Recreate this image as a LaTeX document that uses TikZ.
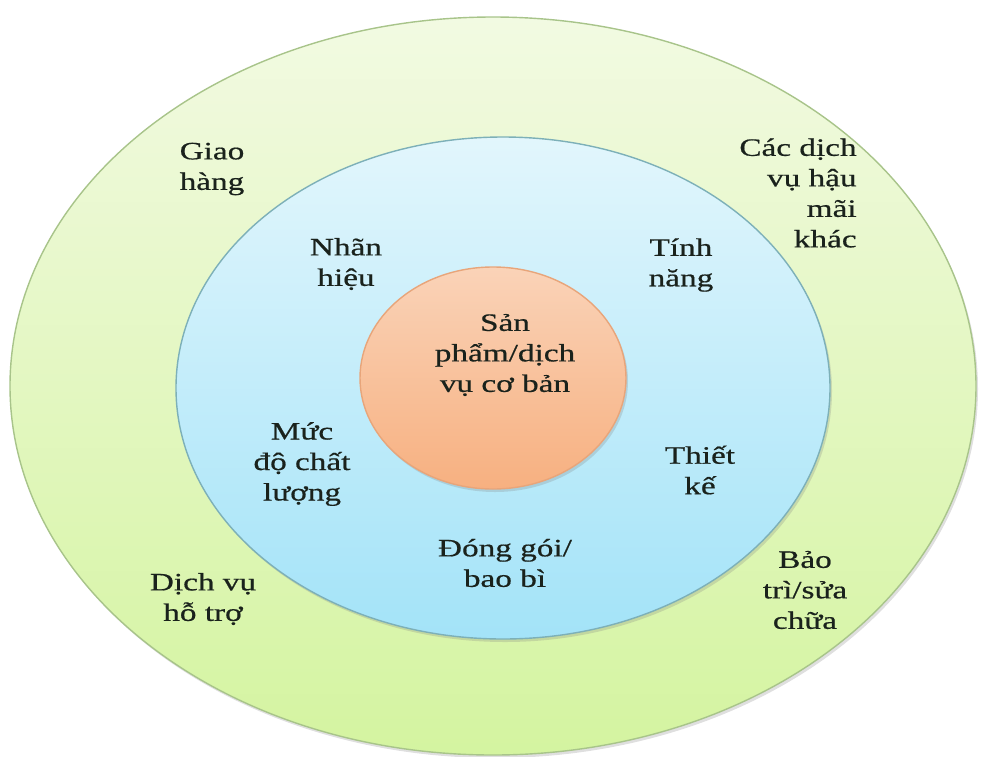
\documentclass[tikz,border=0pt]{standalone}
\usepackage{fontspec}
\setmainfont{Liberation Serif}[FakeStretch=1.33,FakeBold=0.6]
\usetikzlibrary{shadows}
\definecolor{outerTop}{HTML}{F2FAE2}
\definecolor{outerBot}{HTML}{D4F4A0}
\definecolor{outerLine}{HTML}{A8C48A}
\definecolor{midTop}{HTML}{E2F6FC}
\definecolor{midBot}{HTML}{A3E3F8}
\definecolor{midLine}{HTML}{7DB0B8}
\definecolor{inTop}{HTML}{FAD3B8}
\definecolor{inBot}{HTML}{F7B080}
\definecolor{inLine}{HTML}{E8A57A}
\definecolor{txt}{HTML}{1A221C}
\begin{document}
\begin{tikzpicture}[x=1pt,y=-1pt,
  ring/.style={line width=1.4pt},
  lbl/.style={align=center,text=txt,inner sep=0pt,font=\fontsize{25}{30.5}\selectfont}]
\useasboundingbox (0,0) rectangle (985,756);
\path[ring,draw=outerLine,top color=outerTop,bottom color=outerBot,
  drop shadow={shadow xshift=2pt,shadow yshift=-3pt,opacity=0.25}]
  (493,386) ellipse [x radius=483, y radius=369];
\path[ring,draw=midLine,top color=midTop,bottom color=midBot,
  drop shadow={shadow xshift=2pt,shadow yshift=-3pt,opacity=0.25}]
  (503,388) ellipse [x radius=327, y radius=251];
\path[ring,draw=inLine,top color=inTop,bottom color=inBot,
  drop shadow={shadow xshift=2pt,shadow yshift=-3pt,opacity=0.25}]
  (493,378) ellipse [x radius=133, y radius=111];
% outer ring labels
\node[lbl] (giao) at (212,169) {Giao\\hàng};
\node[lbl,align=right] (cac) at (798,193) {Các dịch\\vụ hậu\hspace*{16pt}\\mãi\\khác};
\node[lbl] (dichvu) at (203,599) {Dịch vụ\\hỗ trợ};
\node[lbl] (baotri) at (805,590) {Bảo\\trì/sửa\\chữa};
% middle ring labels
\node[lbl] (nhan) at (346,264) {Nhãn\\hiệu};
\node[lbl] (tinh) at (681,265) {Tính\\năng};
\node[lbl] (muc) at (302,464) {Mức\\độ chất\\lượng};
\node[lbl] (thiet) at (700,470) {Thiết\\kế};
\node[lbl] (dong) at (505,563) {Đóng gói/\\bao bì};
% core
\node[lbl] (core) at (505,355) {Sản\\phẩm/dịch\\vụ cơ bản};
\end{tikzpicture}
\end{document}
